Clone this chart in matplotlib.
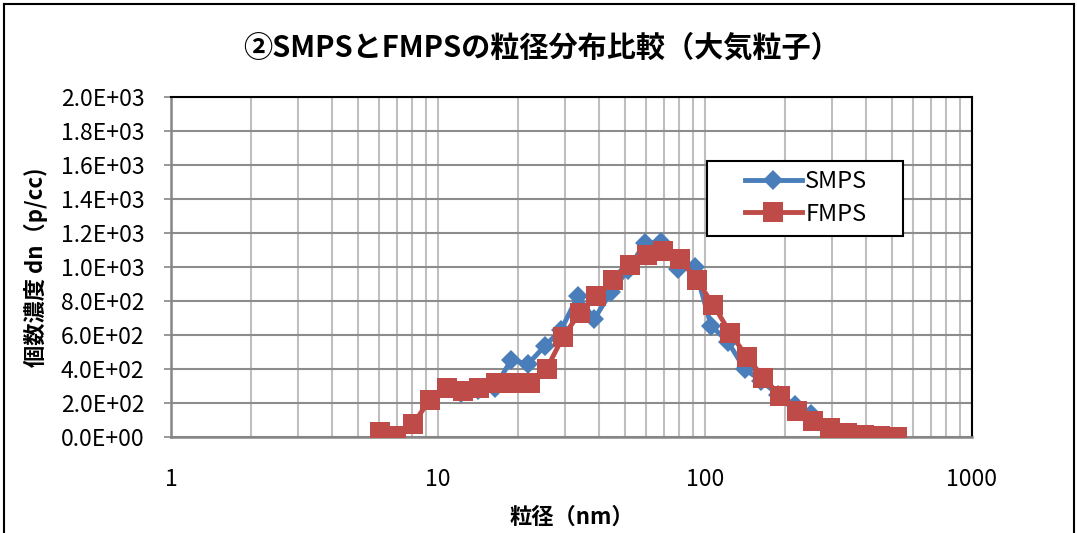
import numpy as np
import matplotlib
matplotlib.use("Agg")
import matplotlib.pyplot as plt
from matplotlib.lines import Line2D
from matplotlib.patches import Rectangle
from matplotlib.ticker import LogLocator, FixedLocator, NullFormatter

plt.rcParams['font.family'] = ['Noto Sans CJK JP', 'DejaVu Sans']

# FMPS チャンネル径 (nm) と個数濃度
fmps_d = [6.04, 6.98, 8.06, 9.31, 10.8, 12.4, 14.3, 16.5, 19.1, 22.1, 25.5,
          29.4, 34.0, 39.2, 45.3, 52.3, 60.4, 69.8, 80.6, 93.1, 107.5, 124.1,
          143.3, 165.5, 191.1, 220.7, 254.8, 294.3, 339.8, 392.4, 453.2, 523.3]
fmps_n = [31, 6, 76, 218, 286, 272, 286, 316, 320, 316, 400,
          590, 731, 829, 924, 1012, 1071, 1096, 1045, 924, 776, 614,
          472, 349, 243, 155, 94, 55, 25, 12, 6, 2]

# SMPS
smps_d = [12.2, 14.1, 16.3, 18.8, 21.7, 25.1, 28.9, 33.4, 38.5, 44.5, 51.4,
          59.4, 68.5, 79.1, 91.4, 105.5, 121.8, 140.7, 162.5, 187.6, 216.7,
          250.3, 289.0, 333.8]
smps_n = [260, 276, 290, 453, 428, 535, 630, 829, 694, 855, 980,
          1140, 1147, 988, 1000, 653, 561, 400, 330, 250, 190,
          135, 47, 15]

y_ticks = np.arange(0, 2001, 200)

blue = '#4A7EBB'
red = '#BE4B48'

fig = plt.figure(figsize=(10.77, 5.33), dpi=100)
W, H = 1077, 533
ax = fig.add_axes([171 / W, (H - 437) / H, (972 - 171) / W, (437 - 97) / H])

ax.plot(smps_d, smps_n, color=blue, lw=3.5, marker='D', ms=10.5,
        markeredgewidth=0, label='SMPS', zorder=3)
ax.plot(fmps_d, fmps_n, color=red, lw=3.5, marker='s', ms=14,
        markeredgewidth=0, label='FMPS', zorder=4)

ax.set_xscale('log')
ax.set_xlim(1, 1000)
ax.set_ylim(0, 2000)

ax.xaxis.set_major_locator(FixedLocator([1, 10, 100, 1000]))
ax.xaxis.set_minor_locator(LogLocator(base=10, subs=np.arange(2, 10)))
ax.xaxis.set_minor_formatter(NullFormatter())
ax.set_xticklabels(['1', '10', '100', '1000'])
ax.set_yticks(y_ticks)
ax.set_yticklabels(['%.1E' % v for v in y_ticks])

ax.grid(True, which='major', axis='x', color='#BFBFBF', lw=1.5)
ax.grid(True, which='minor', axis='x', color='#BFBFBF', lw=1.5)
ax.grid(True, which='major', axis='y', color='#8C8C8C', lw=1.5)
ax.set_axisbelow(True)

ax.tick_params(axis='x', which='both', length=0, labelsize=16.5, pad=22)
ax.tick_params(axis='y', length=5, width=1.2, color='#868686', labelsize=16.5, pad=14)

for s in ['left', 'bottom']:
    ax.spines[s].set_color('#868686')
    ax.spines[s].set_linewidth(1.8)
for s in ['top', 'right']:
    ax.spines[s].set_color('black')
    ax.spines[s].set_linewidth(1.5)

ax.set_xlabel('粒径（nm）', fontsize=16, fontweight='bold', labelpad=11)
ax.set_ylabel('個数濃度 dn（p/cc)', fontsize=16, fontweight='bold', labelpad=9)

fig.text(0.5025, 0.91, '②SMPSとFMPSの粒径分布比較（大気粒子）', ha='center',
         va='center', fontsize=21, fontweight='bold')

# 凡例 (枠は別に描く)
def ax_x(px):
    return (px - 171) / 801


def ax_y(py):
    return (437 - py) / 340


leg = ax.legend(loc='center left', bbox_to_anchor=(ax_x(745), ax_y(198)),
                frameon=False, fontsize=17, borderpad=0, handlelength=2.4,
                handletextpad=0.15, labelspacing=0.4, borderaxespad=0)
leg.set_zorder(6)
ax.add_patch(Rectangle((ax_x(707), ax_y(236)), ax_x(903) - ax_x(707),
                       ax_y(161) - ax_y(236), transform=ax.transAxes,
                       facecolor='white', edgecolor='black', lw=1.5, zorder=5))

# 外枠
fig.add_artist(Line2D([4 / W, 4 / W], [0, 1 - 4 / H], color='black', lw=1.5))
fig.add_artist(Line2D([4 / W, 1 - 3 / W], [1 - 4 / H, 1 - 4 / H], color='black', lw=1.5))
fig.add_artist(Line2D([1 - 3 / W, 1 - 3 / W], [0, 1 - 4 / H], color='black', lw=1.5))

fig.savefig('out.png', dpi=100)
